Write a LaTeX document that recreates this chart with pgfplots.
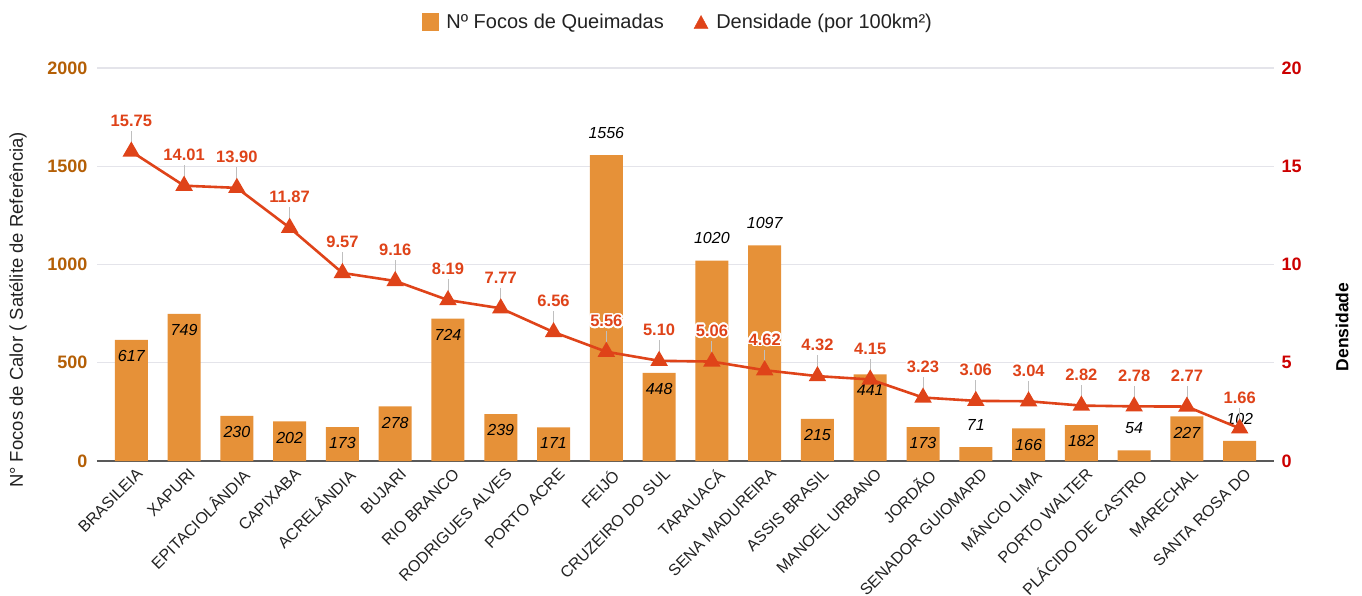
\documentclass[border=0pt]{standalone}
\usepackage{pgfplots}
\pgfplotsset{compat=1.18}
\usepackage{fontspec}
\setmainfont{Liberation Sans}
\usepackage{contour}
\contourlength{1.6pt}
\contournumber{24}
\definecolor{barc}{HTML}{E69138}
\definecolor{linec}{HTML}{DF4319}
\definecolor{lefttick}{HTML}{B45F06}
\definecolor{righttick}{HTML}{CC0000}
\definecolor{gridc}{HTML}{E4E4EA}
\definecolor{txt}{HTML}{222222}

\pgfplotstableread{
x focos dens
0 617 15.75
1 749 14.01
2 230 13.90
3 202 11.87
4 173 9.57
5 278 9.16
6 724 8.19
7 239 7.77
8 171 6.56
9 1556 5.56
10 448 5.10
11 1020 5.06
12 1097 4.62
13 215 4.32
14 441 4.15
15 173 3.23
16 71 3.06
17 166 3.04
18 182 2.82
19 54 2.78
20 227 2.77
21 102 1.66
}\data

\begin{document}
\begin{tikzpicture}
\pgfplotsset{
  common/.style={
    scale only axis, width=1177pt, height=393pt,
    xmin=-0.65, xmax=21.65,
    /pgf/number format/1000 sep={},
    /pgf/number format/assume math mode=true,
    major tick length=0pt,
  }
}
\begin{axis}[common,
  ymin=0, ymax=2000, ytick={0,500,1000,1500,2000},
  axis x line*=bottom, axis y line*=left,
  x axis line style={draw=black!65, line width=2pt},
  y axis line style={draw=none},
  ymajorgrids, grid style={gridc, line width=1.3pt},
  xtick={0,...,21},
  xticklabels={BRASILEIA, XAPURI, EPITACIOLÂNDIA, CAPIXABA, ACRELÂNDIA, BUJARI, RIO BRANCO, RODRIGUES ALVES, PORTO ACRE, FEIJÓ, CRUZEIRO DO SUL, TARAUACÁ, SENA MADUREIRA, ASSIS BRASIL, MANOEL URBANO, JORDÃO, SENADOR GUIOMARD, MÂNCIO LIMA, PORTO WALTER, PLÁCIDO DE CASTRO, MARECHAL, SANTA ROSA DO},
  xticklabel style={rotate=45, anchor=north east, font=\fontsize{16}{18}\selectfont, text=txt, xshift=2pt, yshift=-4pt},
  yticklabel style={font=\fontsize{18}{20}\selectfont\bfseries, text=lefttick, xshift=-6pt},
]
\addplot[ybar, bar width=33pt, fill=barc, draw=none] table[x=x, y=focos] {\data};
% labels inside bars
\addplot[draw=none, mark=none, nodes near coords, point meta=y,
  nodes near coords={\pgfmathprintnumber{\pgfplotspointmeta}},
  every node near coord/.append style={anchor=north, yshift=-7pt, font=\fontsize{16}{18}\selectfont\itshape, text=black}]
  coordinates {(0,617) (1,749) (2,230) (3,202) (4,173) (5,278) (6,724) (7,239) (8,171) (10,448) (13,215) (14,441) (15,173) (17,166) (18,182) (20,227)};
% labels above bars
\addplot[draw=none, mark=none, nodes near coords, point meta=y,
  nodes near coords={\pgfmathprintnumber{\pgfplotspointmeta}},
  every node near coord/.append style={anchor=south, yshift=13pt, font=\fontsize{16}{18}\selectfont\itshape, text=black}]
  coordinates {(9,1556) (11,1020) (12,1097) (16,71) (19,54) (21,102)};
\end{axis}
\begin{axis}[common,
  ymin=0, ymax=20, ytick={0,5,10,15,20},
  axis y line*=right, axis x line=none,
  y axis line style={draw=none},
  yticklabel style={font=\fontsize{18}{20}\selectfont\bfseries, text=righttick, xshift=4pt},
  legend style={at={(0.4936,1.117)}, anchor=center, draw=none, fill=none,
    legend columns=2, font=\fontsize{20}{22}\selectfont, text=txt,
    /tikz/every even column/.append style={column sep=28pt},
    /tikz/every odd column/.append style={column sep=6pt}},
  legend cell align=left,
]
\addlegendimage{legend image code/.code={\fill[barc] (0pt,-8.5pt) rectangle (16pt,8.5pt);}}
\addlegendentry{Nº Focos de Queimadas}
\addlegendimage{legend image code/.code={\fill[linec] (1pt,-6.5pt) -- (15pt,-6.5pt) -- (8pt,6.5pt) -- cycle;}}
\addlegendentry{Densidade (por 100km²)}
\addplot[forget plot, linec, line width=2.6pt, mark=triangle*, mark size=7.5pt,
  mark options={solid},
  error bars/.cd, y dir=plus, y fixed=1.05, error mark=none,
  error bar style={black!25, line width=0.8pt}]
  table[x=x, y=dens] {\data};
\addplot[forget plot, draw=none, mark=none, nodes near coords, point meta=y,
  nodes near coords={\contour{white}{\pgfmathprintnumber[fixed, fixed zerofill, precision=2]{\pgfplotspointmeta}}},
  every node near coord/.append style={anchor=center, yshift=30pt, font=\fontsize{16.5}{18}\selectfont\bfseries, text=linec}]
  table[x=x, y=dens] {\data};
\end{axis}
\node[rotate=90, font=\fontsize{18.5}{20}\selectfont, text=txt] at (-79pt,151pt) {N° Focos de Calor ( Satélite de Referência)};
\node[rotate=90, font=\fontsize{17.5}{20}\selectfont\bfseries, text=black] at (1245pt,134pt) {Densidade};
\pgfresetboundingbox
\path[use as bounding box] (-97pt,-134pt) rectangle (1265pt,461pt);
\end{tikzpicture}
\end{document}
